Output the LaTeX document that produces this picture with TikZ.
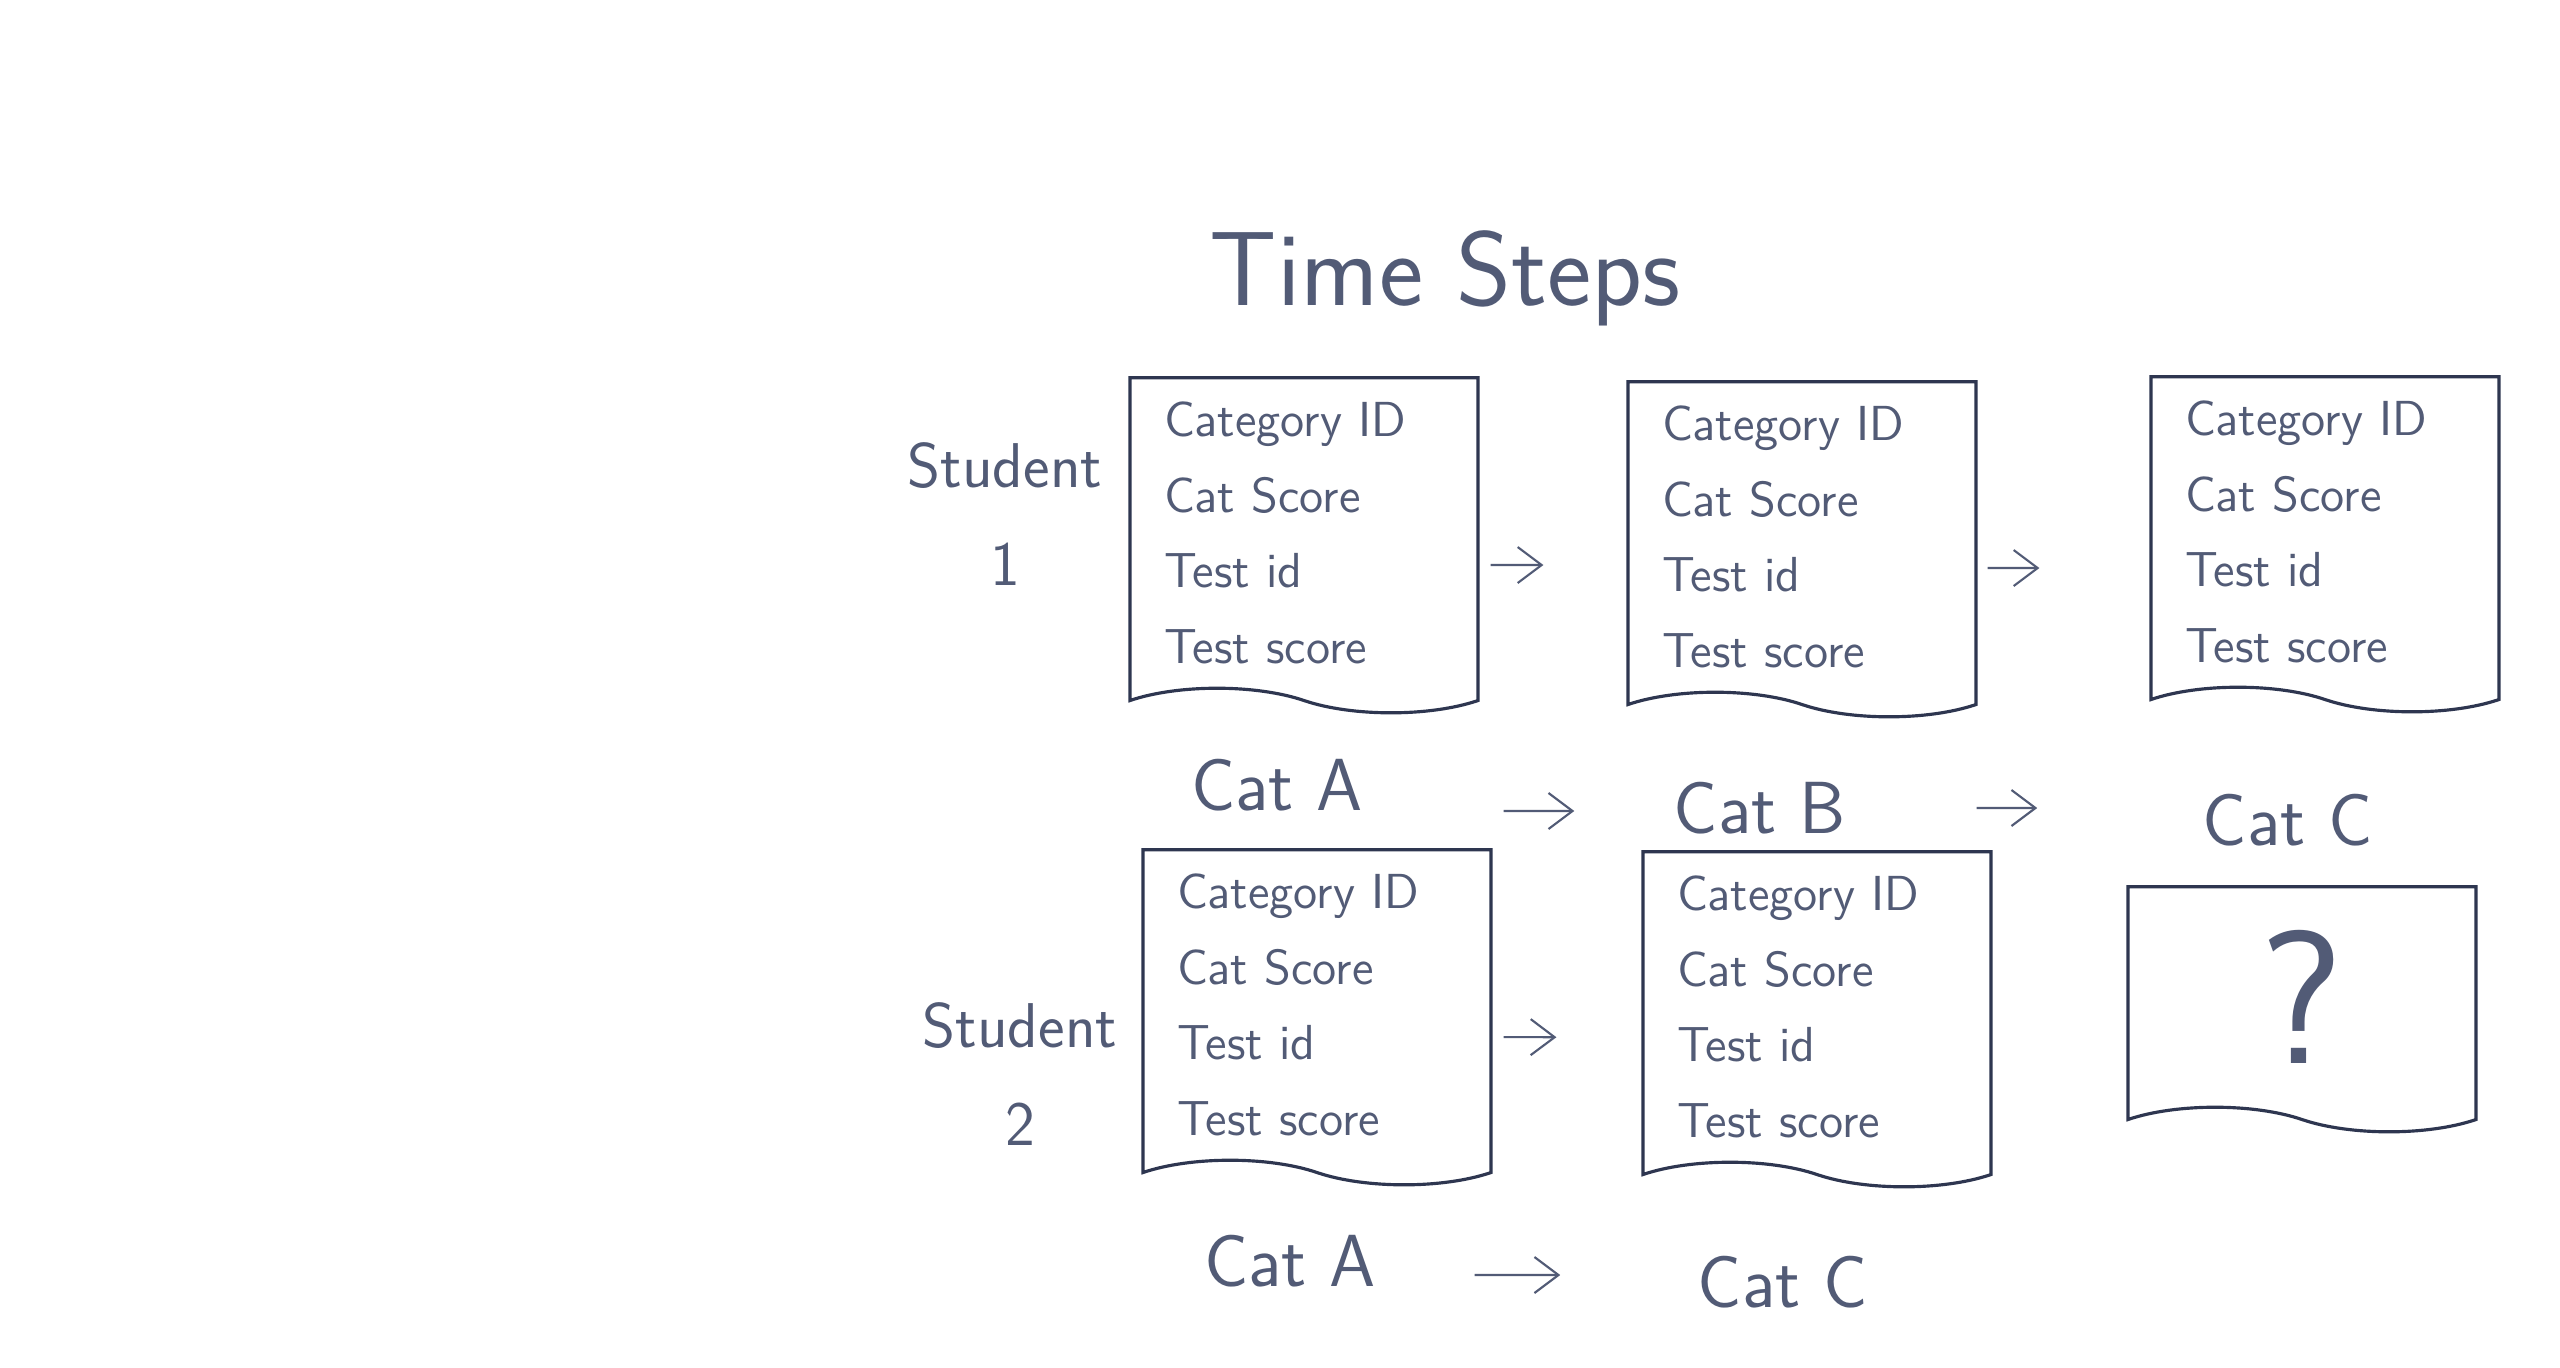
\documentclass[tikz,border=0pt]{standalone}
\usetikzlibrary{arrows.meta,shapes.symbols}
\definecolor{inkline}{HTML}{2E3650}
\definecolor{inktext}{HTML}{525B76}
\begin{document}
\begin{tikzpicture}[>={Straight Barb[length=2.4mm,width=3.6mm]},
  paper/.style={draw=inkline, line width=0.9pt, shape=tape, tape bend top=none,
    tape bend bottom=out and in, tape bend height=7pt,
    minimum width=3.48cm, minimum height=3.35cm, text width=2.8cm, align=left,
    text=inktext, font=\sffamily\fontsize{14}{21.5}\selectfont},
  label/.style={inner sep=0pt, text=inktext, font=\sffamily\fontsize{21}{24}\selectfont},
  rowlabel/.style={inner sep=0pt, align=center, text=inktext, font=\sffamily\fontsize{18}{28}\selectfont},
  step arrow/.style={->, draw=inktext, line width=0.6pt}]
\useasboundingbox[fill=white] (0,0) rectangle (25.6,-13.67);
% title
\node[inner sep=0pt, text=inktext, font=\sffamily\fontsize{30}{34}\selectfont] (title) at (14.45,-2.78) {Time Steps};
% student 1
\node[rowlabel] (student1) at (10.05,-5.14) {Student\\1};
\node[paper] (b11) at (13.04,-5.33) {Category ID\\Cat Score\\Test id\\Test score};
\node[paper] (b12) at (18.02,-5.37) {Category ID\\Cat Score\\Test id\\Test score};
\node[paper] (b13) at (23.25,-5.32) {Category ID\\Cat Score\\Test id\\Test score};
\draw[step arrow, shorten <=1.1mm, shorten >=8.3mm] ([yshift=-3.2mm]b11.east) -- ([yshift=-2.8mm]b12.west);
\draw[step arrow, shorten <=1mm, shorten >=11mm] ([yshift=-3.1mm]b12.east) -- ([yshift=-3.6mm]b13.west);
\node[label] (catA1) at (12.77,-7.85) {Cat A};
\node[label] (catB1) at (17.60,-8.08) {Cat B};
\node[label] (catC1) at (22.88,-8.20) {Cat C};
\draw[step arrow, shorten <=14mm, shorten >=9.9mm] ([yshift=-2.6mm]catA1.east) -- ([yshift=-0.3mm]catB1.west);
\draw[step arrow, shorten <=13mm, shorten >=16.5mm] ([yshift=0mm]catB1.east) -- ([yshift=1.2mm]catC1.west);
% student 2
\node[rowlabel] (student2) at (10.20,-10.74) {Student\\2};
\node[paper] (b21) at (13.17,-10.05) {Category ID\\Cat Score\\Test id\\Test score};
\node[paper] (b22) at (18.17,-10.07) {Category ID\\Cat Score\\Test id\\Test score};
\node[paper, minimum height=2.45cm, text width=, align=center, font=\sffamily\fontsize{54}{60}\selectfont] (q) at (23.02,-9.97) {?};
\draw[step arrow, shorten <=1.1mm, shorten >=8.5mm] ([yshift=-3.2mm]b21.east) -- ([yshift=-3.05mm]b22.west);
\node[label] (catA2) at (12.90,-12.61) {Cat A};
\node[label] (catC2) at (17.83,-12.82) {Cat C};
\draw[step arrow, shorten <=9.8mm, shorten >=13.7mm] ([yshift=-1.4mm]catA2.east) -- ([yshift=0.7mm]catC2.west);
\end{tikzpicture}
\end{document}
